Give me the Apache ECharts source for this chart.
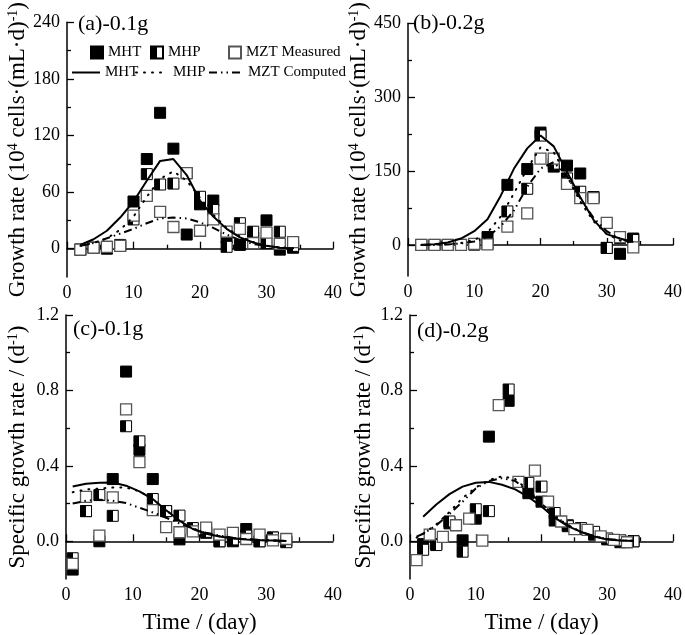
<!DOCTYPE html>
<html><head><meta charset="utf-8">
<script src="https://cdn.jsdelivr.net/npm/echarts@6/dist/echarts.min.js"></script>
<style>html,body{margin:0;padding:0;background:#fff}#c{width:685px;height:635px}</style>
</head><body><div id="c"></div>
<script>
// ---------- Panel (a): growth rate, 0.1 g ----------
const aDays = [2,4,6,8,10,12,14,16,18,20,22,24,26,28,30,32,34];
const aMHT  = [-1,1,0,3,50,95,144,106,15,47,51,12,4,12,30,-1,1];
const aMHP  = [-1,1,2,4,31,79,68,69,80,55,41,2,27,18,6,18,3];
const aMZT  = [-1,1,2,3,35,56,39,23,80,19,31,18,21,6,17,5,7];
const aMHTc = [4,10,19,33,50,72,93,95,78,51,34,21,12,6.5,3,1,0.3];
const aMHPc = [3,6,11,20,34,55,74,82,72,54,36,22,13,7,3,1.5,0.5];
const aMZTc = [3,6,11,16,21,27,32,33,32,28,22,15,9,5,3,1,0.5];

// ---------- Panel (b): growth rate, 0.2 g ----------
const bDays = [2,4,6,8,10,12,15,18,20,22,24,26,28,30,32,34];
const bMHT  = [0,0,0,0,1,16,122,154,228,159,161,145,97,-6,-18,13];
const bMHP  = [0,0,0,0,1,2,68,114,222,165,135,108,97,-6,14,10];
const bMZT  = [0,0,0,0,2,1,37,64,175,175,124,95,95,45,16,-5];
const bLineDays = [2,4,6,8,10,12,14,16,18,20,22,24,26,28,30,32,34];
const bMHTc = [0.5,1.5,5,13,28,52,100,155,196,222,200,148,97,51,22,13,6];
const bMHPc = [0,0.5,1.5,4,10,25,58,105,155,198,188,140,88,48,22,9,4];
const bMZTc = [0,0,1,3,7,16,38,70,118,155,168,140,95,55,28,12,5];

// ---------- Panel (c): specific growth rate, 0.1 g ----------
const cDays = [1,3,5,7,9,11,13,15,17,19,21,23,25,27,29,31,33];
const cMHT  = [-0.15,0.16,0.0,0.33,0.90,0.485,0.33,0.16,0.01,0.06,0.045,0.0,0.0,0.065,0.0,0.02,0.0];
const cMHP  = [-0.09,0.16,0.245,0.135,0.61,0.53,0.224,0.16,0.136,0.07,0.05,0.0,0.01,0.03,0.0,0.02,-0.005];
const cMZT  = [-0.12,0.235,0.03,0.233,0.70,0.42,0.165,0.075,0.048,0.053,0.072,0.035,0.045,0.012,0.035,0.005,0.012];
const cLineDays = [1,3,5,7,9,11,13,15,17,19,21,23,25,27,29,31,33];
const cMHTc = [0.29,0.305,0.31,0.312,0.295,0.265,0.224,0.165,0.11,0.065,0.04,0.025,0.015,0.01,0.006,0.004,0.002];
const cMHPc = [0.26,0.275,0.28,0.285,0.285,0.265,0.224,0.165,0.11,0.068,0.042,0.027,0.017,0.011,0.007,0.004,0.002];
const cMZTc = [0.20,0.215,0.22,0.215,0.203,0.178,0.153,0.125,0.095,0.068,0.045,0.03,0.019,0.012,0.007,0.004,0.002];

// ---------- Panel (d): specific growth rate, 0.2 g ----------
const dDays = [2,4,6,8,10,12,15,18,20,22,24,26,28,30,32,34];
const dMHT  = [-0.015,-0.015,0.095,0.005,0.12,0.555,0.745,0.255,0.21,0.11,0.085,0.065,0.035,0.01,-0.005,0.0];
const dMHP  = [-0.045,-0.02,0.105,-0.055,0.17,0.16,0.805,0.31,0.29,0.15,0.08,0.07,0.05,0.015,0.005,0.0];
const dMZTDays = [1,3,5,7,9,11,13.5,16.5,19,21,23,25,27,29,31,33];
const dMZT  = [-0.1,0.035,0.023,0.085,0.12,0.004,0.722,0.315,0.375,0.21,0.105,0.065,0.06,0.026,0.008,-0.005];
const dMHTDays = [2,4,6,8,10,12,14,16,18,20,22,24,26,28,30,32,34];
const dMHTc = [0.13,0.195,0.25,0.29,0.31,0.315,0.30,0.275,0.235,0.185,0.125,0.08,0.05,0.025,0.01,0.004,0.001];
const dLineDays = [1,2,4,6,8,10,12,14,16,18,20,22,24,26,28,30,32,34];
const dMHPc = [0.02,0.04,0.09,0.155,0.23,0.285,0.325,0.345,0.33,0.27,0.2,0.135,0.085,0.05,0.027,0.012,0.005,0.002];
const dMZTc = [0.025,0.04,0.085,0.145,0.21,0.28,0.32,0.335,0.32,0.265,0.2,0.135,0.085,0.05,0.027,0.012,0.005,0.002];

// ---------- axis ticks ----------
const aMajor = [0,60,120,180,240], aMinor = [30,90,150,210];
const bMajor = [0,150,300,450],    bMinor = [75,225,375];
const cdMajor = [0,0.4,0.8,1.2],   cdMinor = [0.2,0.6,1.0];

const FONT = 'Liberation Serif';
const zip = (xs, ys) => xs.map((x, i) => [x, ys[i]]);
const chart = echarts.init(document.getElementById('c'), null, {renderer: 'canvas'});

const halfFill = new echarts.graphic.LinearGradient(0, 0, 1, 0, [
  {offset: 0, color: '#000'}, {offset: 0.5, color: '#000'},
  {offset: 0.5, color: '#fff'}, {offset: 1, color: '#fff'}]);

const styFilled = {color: '#000', borderColor: '#000', borderWidth: 1, opacity: 1};
const styHalf = {color: halfFill, borderColor: '#000', borderWidth: 1, opacity: 1};
const styOpen = {color: '#fff', borderColor: '#555', borderWidth: 1.3, opacity: 1};
const lnSolid = {color: '#000', width: 2, type: 'solid'};
const lnDot = {color: '#000', width: 2, type: [1, 7], cap: 'round'};
const lnDashDot = {color: '#000', width: 2, type: [8, 4, 1.5, 4, 1.5, 4]};

const grids = [
  {left: 67, top: 11, width: 266, height: 266},
  {left: 408, top: 11, width: 266, height: 265},
  {left: 66, top: 315, width: 267, height: 264},
  {left: 410, top: 315, width: 265, height: 264}
];

const axisLineSty = {show: true, lineStyle: {color: '#000', width: 1.5}};
const tickLine = {color: '#000', width: 1.3};
const labelSty = {fontSize: 18, fontFamily: FONT, color: '#000'};

function xAx(g, named) {
  return {
    type: 'value', gridIndex: g, min: 0, max: 40, interval: 10, position: 'bottom',
    axisLine: axisLineSty,
    axisTick: {show: true, inside: true, length: 7, lineStyle: tickLine},
    minorTick: {show: true, splitNumber: 2, length: 4, lineStyle: tickLine},
    axisLabel: Object.assign({margin: 7}, labelSty),
    splitLine: {show: false},
    name: named ? 'Time / (day)' : '', nameLocation: 'middle', nameGap: 32,
    nameTextStyle: {fontSize: 23, fontFamily: FONT, color: '#000'}
  };
}
function yAx(g, min, max, majors, minors, name, gap, fmt) {
  return [{
    type: 'value', gridIndex: g, min: min, max: max, position: 'left',
    axisLine: axisLineSty,
    axisTick: {show: true, inside: true, length: 7, customValues: majors, lineStyle: tickLine},
    axisLabel: Object.assign({margin: 7, customValues: majors, formatter: fmt}, labelSty),
    splitLine: {show: false},
    name: name, nameLocation: 'middle', nameGap: gap, nameRotate: 90,
    nameTextStyle: {fontSize: 23, fontFamily: FONT, color: '#000',
      rich: {sup: {fontSize: 14, fontFamily: FONT, color: '#000', verticalAlign: 'top'}}}
  }, {
    type: 'value', gridIndex: g, min: min, max: max, position: 'left',
    axisLine: {show: false},
    axisTick: {show: true, inside: true, length: 4, customValues: minors, lineStyle: tickLine},
    axisLabel: {show: false}, splitLine: {show: false}
  }];
}

const growthName = 'Growth rate (10{sup|4} cells·(mL·d){sup|-1})';
const specName = 'Specific growth rate / (d{sup|-1})';
const f0 = v => String(v);
const f1 = v => v.toFixed(1);

const yAxes = [].concat(
  yAx(0, -30, 240, aMajor, aMinor, growthName, 35, f0),
  yAx(1, -63, 450, bMajor, bMinor, growthName, 33, f0),
  yAx(2, -0.2, 1.2, cdMajor, cdMinor, specName, 37, f1),
  yAx(3, -0.2, 1.2, cdMajor, cdMinor, specName, 35, f1)
);

function lineS(name, g, xs, ys, ls) {
  return {name: name, type: 'line', xAxisIndex: g, yAxisIndex: 2 * g, data: zip(xs, ys),
    symbol: 'none', lineStyle: ls, itemStyle: {color: '#000'}, z: 4, silent: true};
}
function scatS(name, g, xs, ys, st) {
  return {name: name, type: 'scatter', xAxisIndex: g, yAxisIndex: 2 * g, data: zip(xs, ys),
    symbol: 'rect', symbolSize: 11, itemStyle: st, z: 3, silent: true};
}

const series = [
  scatS('MHT', 0, aDays, aMHT, styFilled),
  scatS('MHP', 0, aDays, aMHP, styHalf),
  scatS('MZT Measured', 0, aDays, aMZT, styOpen),
  lineS('MHT ', 0, aDays, aMHTc, lnSolid),
  lineS('MHP ', 0, aDays, aMHPc, lnDot),
  lineS('MZT Computed', 0, aDays, aMZTc, lnDashDot),

  scatS('b1', 1, bDays, bMHT, styFilled),
  scatS('b2', 1, bDays, bMHP, styHalf),
  scatS('b3', 1, bDays, bMZT, styOpen),
  lineS('b4', 1, bLineDays, bMHTc, lnSolid),
  lineS('b5', 1, bLineDays, bMHPc, lnDot),
  lineS('b6', 1, bLineDays, bMZTc, lnDashDot),

  scatS('c1', 2, cDays, cMHT, styFilled),
  scatS('c2', 2, cDays, cMHP, styHalf),
  scatS('c3', 2, cDays, cMZT, styOpen),
  lineS('c4', 2, cLineDays, cMHTc, lnSolid),
  lineS('c5', 2, cLineDays, cMHPc, lnDot),
  lineS('c6', 2, cLineDays, cMZTc, lnDashDot),

  scatS('d1', 3, dDays, dMHT, styFilled),
  scatS('d2', 3, dDays, dMHP, styHalf),
  scatS('d3', 3, dMZTDays, dMZT, styOpen),
  lineS('d4', 3, dMHTDays, dMHTc, lnSolid),
  lineS('d5', 3, dLineDays, dMHPc, lnDot),
  lineS('d6', 3, dLineDays, dMZTc, lnDashDot)
];

function leg(name, left, top, w, h, isLine) {
  const o = {data: [name], left: left, top: top, padding: 0, itemWidth: w, itemHeight: h,
    selectedMode: false, itemGap: 0,
    formatter: n => n.trim(),
    textStyle: {fontSize: 15, fontFamily: FONT, color: '#000'}};
  if (isLine) o.itemStyle = {opacity: 0};
  return o;
}

const panelLabel = (t, l, tp) => ({type: 'text', left: l, top: tp,
  style: {text: t, font: '22px "Liberation Serif"', fill: '#000'}});

chart.setOption({
  animation: false,
  backgroundColor: '#fff',
  grid: grids,
  xAxis: [xAx(0, false), xAx(1, false), xAx(2, true), xAx(3, true)],
  yAxis: yAxes,
  legend: [
    leg('MHT', 90, 45, 12, 12, false),
    leg('MHP', 150, 45, 12, 12, false),
    leg('MZT Measured', 228, 45, 12, 12, false),
    leg('MHT ', 71, 65, 28, 12, true),
    leg('MHP ', 135, 65, 32, 12, true),
    leg('MZT Computed', 208, 65, 34, 12, true)
  ],
  graphic: [
    panelLabel('(a)-0.1g', 78, 13),
    panelLabel('(b)-0.2g', 413, 12),
    panelLabel('(c)-0.1g', 73, 318),
    panelLabel('(d)-0.2g', 417, 320)
  ],
  series: series
});
</script></body></html>
